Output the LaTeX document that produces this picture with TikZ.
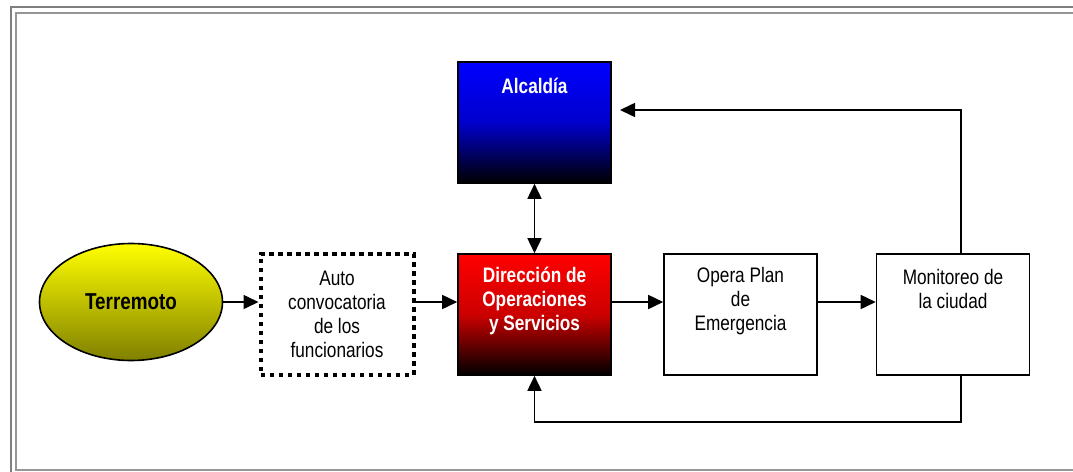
\documentclass[tikz,border=0pt]{standalone}
\usepackage{fontspec}
\setmainfont[FakeStretch=0.82]{Liberation Sans}
\usetikzlibrary{shapes,arrows.meta,positioning}
\definecolor{frame-gray}{HTML}{7F7F7F}
\definecolor{frame-light}{HTML}{969696}

\begin{document}
\begin{tikzpicture}[x=1pt,y=-1pt,
  >={Triangle[length=15pt,width=14pt]},
  box/.style={draw=black, line width=1.6pt, minimum width=153pt, minimum height=121pt, inner sep=0pt},
  txt/.style={align=center, inner sep=0pt, font=\fontsize{21}{24}\selectfont},
  wtxt/.style={align=center, inner sep=0pt, text=white, font=\fontsize{21}{24}\selectfont\bfseries},
  flow/.style={->, line width=1.6pt}]
\useasboundingbox (0,0) rectangle (1073,471);
% double frame round the page
\draw[frame-gray, line width=2.5pt] (11,7) rectangle (1100,500);
\draw[frame-light, line width=2.5pt] (16,13) rectangle (1100,470);
% boxes
\node[ellipse, draw=black, line width=1.6pt, top color=yellow, bottom color=yellow!50!black, minimum width=183pt, minimum height=117pt, inner sep=0pt, font=\fontsize{23}{24}\selectfont\bfseries] (terremoto) at (131,302) {Terremoto};
\node[box, txt, dash pattern=on 4.5pt off 4.5pt, line width=4pt] (auto) at (337,314) {Auto\\convocatoria\\de los\\funcionarios};
\node[box, top color=red, bottom color=black, middle color=red!80!black] (direccion) at (534.5,314.5) {};
\node[wtxt] (direccionT) at ([yshift=-48pt]direccion.north) {Direcci\'on de\\Operaciones\\y Servicios};
\node[box, top color=blue, bottom color=black, middle color=blue!80!black] (alcaldia) at (534.5,122.5) {};
\node[wtxt] (alcaldiaT) at ([yshift=-25pt]alcaldia.north) {Alcald\'ia};
\node[box] (opera) at (740.5,314.5) {};
\node[txt] (operaT) at ([yshift=-48pt]opera.north) {Opera Plan\\de\\Emergencia};
\node[box] (monitoreo) at (953,314.5) {};
\node[txt] (monitoreoT) at ([yshift=-36pt]monitoreo.north) {Monitoreo de\\la ciudad};
% connectors
\coordinate (row) at (0,302);
\draw[flow] (terremoto.east) -- (auto.west |- row);
\draw[flow] (auto.east |- row) -- (direccion.west |- row);
\draw[flow] (direccion.east |- row) -- (opera.west |- row);
\draw[flow] (opera.east |- row) -- (monitoreo.west |- row);
\draw[<->, line width=1.6pt] (alcaldia.south) -- (direccion.north);
\coordinate (upturn) at (961,110);
\coordinate (alcaldiaIn) at (620,110);
\draw[flow] (monitoreo.north -| upturn) -- (upturn) -- (alcaldiaIn);
\coordinate (downturn) at (961,422);
\draw[flow] (monitoreo.south -| downturn) -- (downturn) -- (downturn -| direccion.south) -- (direccion.south);
\end{tikzpicture}
\end{document}
